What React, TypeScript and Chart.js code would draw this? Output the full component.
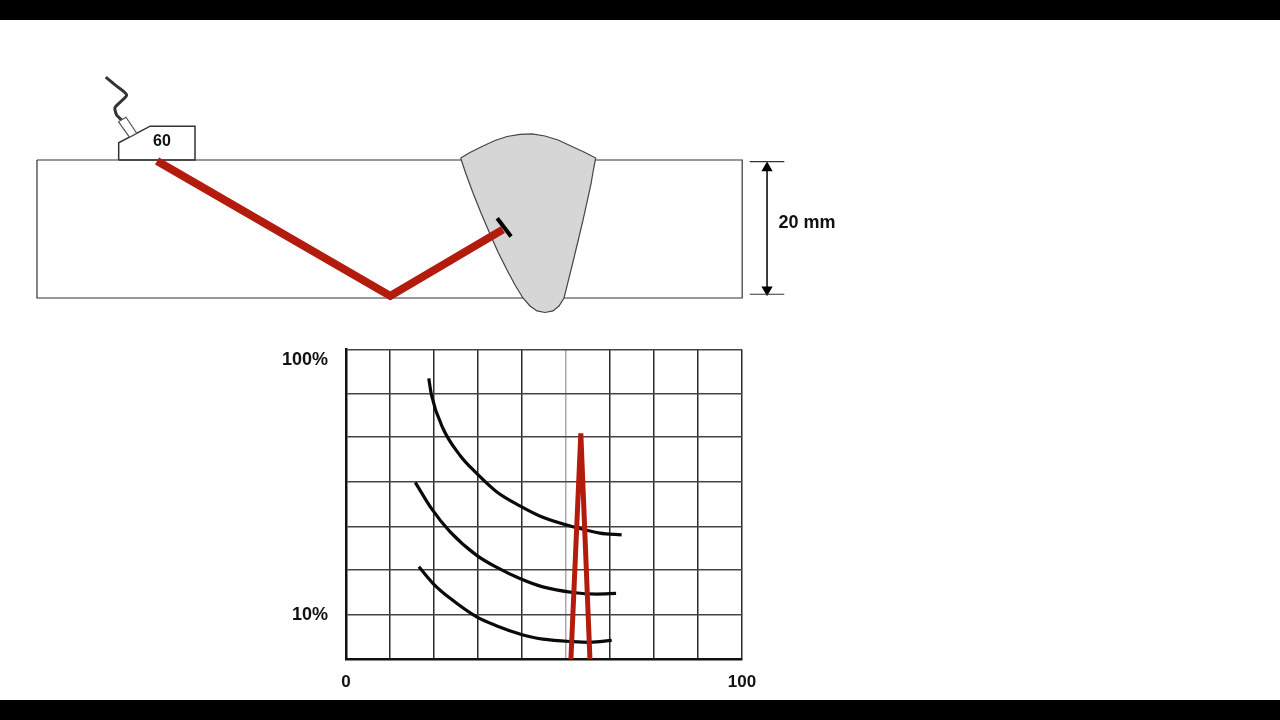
import { useEffect, useRef } from "react";
import { Chart, registerables } from "chart.js";

Chart.register(...registerables);

// welded plate section, in mm (x along the plate, y = depth from top face)
const platePoints = [{ x: 0, y: 0 }, { x: 102.2, y: 0 }, { x: 102.2, y: 20 }, { x: 0, y: 20 }, { x: 0, y: 0 }];
const weldPoints = [
  { x: 61.4, y: -0.29 }, { x: 62.75, y: -1.09 }, { x: 64.64, y: -2.03 }, { x: 66.38, y: -2.83 }, { x: 68.12, y: -3.41 },
  { x: 70, y: -3.72 }, { x: 71.74, y: -3.77 }, { x: 73.62, y: -3.48 }, { x: 75.51, y: -2.9 }, { x: 77.54, y: -1.96 },
  { x: 79.42, y: -1.09 }, { x: 80.97, y: -0.29 }, { x: 80.58, y: 1.74 }, { x: 80.29, y: 3.48 }, { x: 79.71, y: 6.09 },
  { x: 79.13, y: 8.7 }, { x: 78.41, y: 11.74 }, { x: 77.68, y: 14.78 }, { x: 76.96, y: 17.68 }, { x: 76.38, y: 20 },
  { x: 75.65, y: 21.16 }, { x: 74.78, y: 21.88 }, { x: 73.62, y: 22.1 }, { x: 72.46, y: 21.88 }, { x: 71.45, y: 21.16 },
  { x: 70.43, y: 20 }, { x: 69.28, y: 18.12 }, { x: 68.12, y: 15.94 }, { x: 66.81, y: 13.33 }, { x: 65.65, y: 10.72 },
  { x: 64.35, y: 7.68 }, { x: 63.19, y: 4.78 }, { x: 62.17, y: 2.03 }, { x: 61.4, y: -0.29 },
];
const beamPoints = [{ x: 17.4, y: 0.15 }, { x: 51.2, y: 19.7 }, { x: 67.5, y: 10.1 }];
const flawPoints = [{ x: 66.7, y: 8.45 }, { x: 68.7, y: 11.1 }];
const wedgePoints = [{ x: 11.84, y: 0 }, { x: 11.84, y: -2.5 }, { x: 16.4, y: -4.9 }, { x: 22.9, y: -4.9 }, { x: 22.9, y: 0 }, { x: 11.84, y: 0 }];
const crystalPoints = [{ x: 11.8, y: -5.55 }, { x: 12.9, y: -6.2 }, { x: 14.45, y: -3.87 }, { x: 13.4, y: -3.3 }, { x: 11.8, y: -5.55 }];
const cablePoints = [{ x: 9.96, y: -12 }, { x: 11.55, y: -10.7 }, { x: 13, y: -9.4 }, { x: 11.3, y: -7.6 }, { x: 11.55, y: -6.5 }, { x: 12.27, y: -5.8 }];
const dimTop = [{ x: 103.3, y: 0.25 }, { x: 108.3, y: 0.25 }];
const dimBottom = [{ x: 103.3, y: 19.46 }, { x: 108.3, y: 19.46 }];
const dimArrow = [{ x: 105.8, y: 1.16 }, { x: 105.8, y: 18.8 }];
const plateNotes = [
  { text: "60", x: 18.1, y: -2.62, size: 16 },
  { text: "20 mm", x: 111.6, y: 9.1, size: 18 },
];

// A-scan screen, x = time base 0-100, y = amplitude %
const xGridTicks = [0, 11.1, 22.2, 33.3, 44.4, 55.6, 66.7, 77.8, 88.9, 100];
const yGridTicks = [0, 14.2, 29, 42.6, 57.4, 71.9, 85.8, 100];
const dacHigh = [
  { x: 20.9, y: 90.7 }, { x: 21.6, y: 85.2 }, { x: 24.5, y: 74.5 }, { x: 28.8, y: 65.8 }, { x: 33, y: 60 }, { x: 38.1, y: 54 },
  { x: 43.9, y: 49.5 }, { x: 49.7, y: 45.8 }, { x: 58.3, y: 42.4 }, { x: 64.1, y: 40.7 }, { x: 69.6, y: 40.1 },
];
const dacMid = [
  { x: 17.5, y: 57.1 }, { x: 21.6, y: 48.6 }, { x: 26.3, y: 41.1 }, { x: 33, y: 33.5 }, { x: 38.1, y: 29.6 },
  { x: 43.9, y: 26 }, { x: 49.7, y: 23.3 }, { x: 57.3, y: 21.5 }, { x: 63.3, y: 21 }, { x: 68.2, y: 21.2 },
];
const dacLow = [
  { x: 18.4, y: 29.8 }, { x: 22, y: 24.4 }, { x: 26.3, y: 19.6 }, { x: 33, y: 13.6 }, { x: 38.1, y: 10.7 }, { x: 43.9, y: 8.1 },
  { x: 46.5, y: 7.2 }, { x: 49.7, y: 6.4 }, { x: 57.3, y: 5.6 }, { x: 61.6, y: 5.4 }, { x: 67.1, y: 6 },
];
const echoPeak = [{ x: 56.8, y: 0 }, { x: 59.3, y: 72.9 }, { x: 61.6, y: 0 }];

const RED = "#b31b0d";
const INK = "#333333";
const FONT = "'Liberation Sans', Arial, sans-serif";

const noteLabels = {
  id: "noteLabels",
  afterDatasetsDraw(chart: any) {
    const { ctx, scales } = chart;
    ctx.save();
    ctx.fillStyle = "#111111";
    ctx.textAlign = "center";
    ctx.textBaseline = "middle";
    for (const n of plateNotes) {
      ctx.font = `bold ${n.size}px ${FONT}`;
      ctx.fillText(n.text, scales.x.getPixelForValue(n.x), scales.y.getPixelForValue(n.y));
    }
    ctx.restore();
  },
};

const outline = (data: any[], color: string, width: number, extra: any = {}) => ({
  data,
  showLine: true,
  borderColor: color,
  borderWidth: width,
  pointRadius: 0,
  ...extra,
});

const PlateDiagram = () => {
  const ref = useRef<HTMLCanvasElement | null>(null);
  useEffect(() => {
    if (!ref.current) return;
    const chart = new Chart(ref.current, {
      type: "scatter",
      data: {
        datasets: [
          outline(flawPoints, "#000000", 4),
          outline(beamPoints, RED, 8, { borderJoinStyle: "miter" }),
          outline(weldPoints, "#444444", 1.2, { fill: "shape", backgroundColor: "#d6d6d6" }),
          outline(platePoints, INK, 1.2),
          outline(crystalPoints, "#555555", 1.2, { fill: "shape", backgroundColor: "#ffffff" }),
          outline(wedgePoints, INK, 1.5, { fill: "shape", backgroundColor: "#ffffff" }),
          outline(cablePoints, INK, 3, { tension: 0.2 }),
          outline(dimTop, INK, 1.2),
          outline(dimBottom, INK, 1.2),
          outline(dimArrow, "#000000", 1.5, {
            pointRadius: 5,
            pointStyle: "triangle",
            pointRotation: [0, 180],
            pointBackgroundColor: "#000000",
            pointBorderColor: "#000000",
          }),
        ],
      },
      options: {
        animation: false,
        responsive: false,
        layout: { padding: 0, autoPadding: false },
        plugins: { legend: { display: false }, tooltip: { enabled: false } },
        scales: {
          x: { type: "linear", min: -5.36, max: 125.07, display: false },
          y: { type: "linear", min: -17.39, max: 24.64, reverse: true, display: false },
        },
      } as any,
      plugins: [noteLabels],
    });
    return () => chart.destroy();
  }, []);
  return <canvas ref={ref} width={900} height={290} style={{ position: "absolute", left: 0, top: 40 }} />;
};

const AScan = () => {
  const ref = useRef<HTMLCanvasElement | null>(null);
  useEffect(() => {
    if (!ref.current) return;
    const curve = (data: any[]) => outline(data, "#0a0a0a", 3.2, { cubicInterpolationMode: "monotone" });
    const chart = new Chart(ref.current, {
      type: "scatter",
      data: {
        datasets: [
          outline(echoPeak, RED, 5, { borderJoinStyle: "miter" }),
          curve(dacHigh),
          curve(dacMid),
          curve(dacLow),
        ],
      },
      options: {
        animation: false,
        responsive: false,
        layout: { padding: { right: 38 }, autoPadding: false },
        plugins: { legend: { display: false }, tooltip: { enabled: false } },
        scales: {
          x: {
            type: "linear",
            min: 0,
            max: 100,
            afterBuildTicks: (s: any) => {
              s.ticks = xGridTicks.map((value) => ({ value }));
            },
            afterFit: (s: any) => {
              s.height = 41;
            },
            grid: {
              drawTicks: false,
              color: (c: any) => (c.tick && c.tick.value === 55.6 ? "#aaaaaa" : "#2b2b2b"),
              lineWidth: 1.5,
            },
            border: { color: "#111111", width: 2.5 },
            ticks: {
              autoSkip: false,
              maxRotation: 0,
              padding: 13,
              color: "#111111",
              font: { family: FONT, size: 17, weight: "bold" },
              callback: (v: any) => (v === 0 || v === 100 ? String(v) : ""),
            },
          },
          y: {
            type: "linear",
            min: 0,
            max: 100,
            afterBuildTicks: (s: any) => {
              s.ticks = yGridTicks.map((value) => ({ value }));
            },
            afterFit: (s: any) => {
              s.width = 86;
            },
            grid: { drawTicks: false, color: "#444444", lineWidth: 1.5 },
            border: { color: "#111111", width: 2.5 },
            ticks: {
              autoSkip: false,
              padding: 18,
              color: "#111111",
              font: { family: FONT, size: 18, weight: "bold" },
              callback: (v: any) => (v === 100 ? ["", "100%"] : v === 14.2 ? "10%" : ""),
            },
          },
        },
      } as any,
    });
    return () => chart.destroy();
  }, []);
  return <canvas ref={ref} width={520} height={390} style={{ position: "absolute", left: 260, top: 310 }} />;
};

export default function App() {
  useEffect(() => {
    document.body.style.margin = "0";
    document.body.style.background = "#ffffff";
  }, []);
  return (
    <div style={{ position: "absolute", left: 0, top: 0, width: 1280, height: 720, overflow: "hidden", background: "#ffffff" }}>
      <div style={{ position: "absolute", left: 0, top: 0, width: 1280, height: 20, background: "#000000" }} />
      <div style={{ position: "absolute", left: 0, top: 700, width: 1280, height: 20, background: "#000000" }} />
      <PlateDiagram />
      <AScan />
    </div>
  );
}
